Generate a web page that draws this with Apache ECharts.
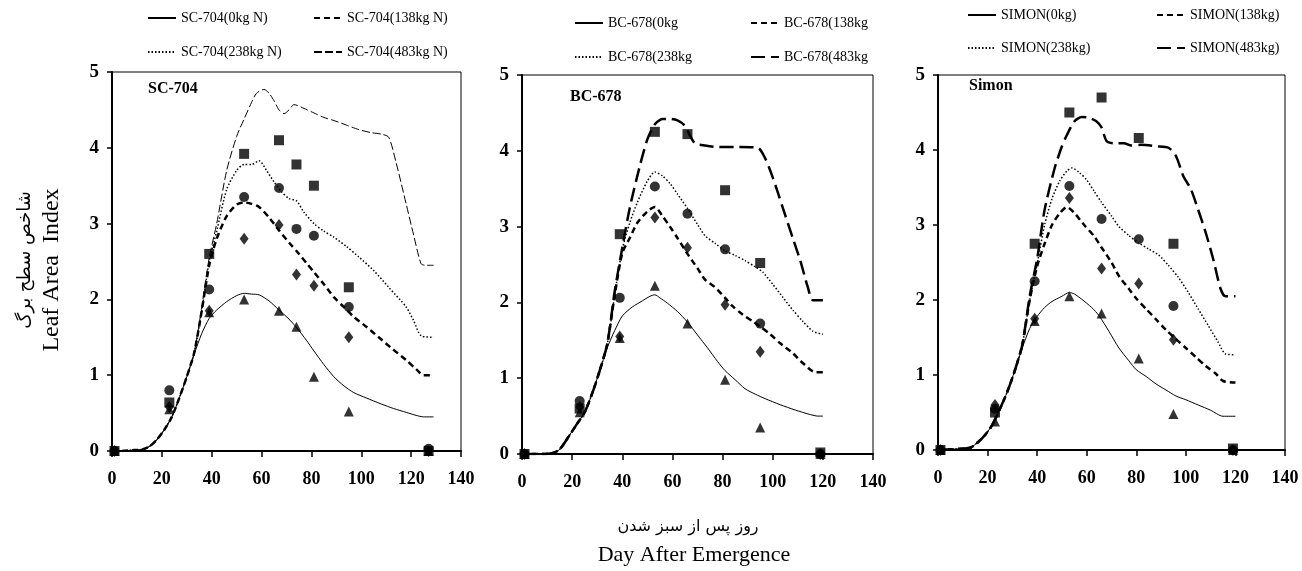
<!DOCTYPE html>
<html>
<head>
<meta charset="utf-8">
<script src="https://cdn.jsdelivr.net/npm/echarts@6/dist/echarts.min.js"></script>
<style>html,body{margin:0;padding:0;background:#fff}#c{width:1302px;height:571px}</style>
</head>
<body>
<div id="c"></div>
<script>
// ---------- DATA ----------
var xTicks = [0, 20, 40, 60, 80, 100, 120, 140];
var yTicks = [0, 1, 2, 3, 4, 5];

// SC-704 simulated curves [day, LAI]
var sc0 = [[0,0],[4,0],[8,0.01],[12,0.02],[15,0.06],[18,0.15],[21,0.28],[24,0.45],[27,0.7],[30,0.98],[33,1.28],[36,1.55],[39,1.75],[42,1.86],[46,1.97],[50,2.05],[53,2.08],[56,2.07],[59,2.06],[63,1.98],[67,1.86],[71,1.74],[74,1.63],[78,1.46],[81,1.32],[85,1.14],[89,0.98],[93,0.86],[97,0.77],[102,0.7],[108,0.62],[113,0.56],[118,0.51],[122,0.47],[125,0.45],[129,0.45]];
var sc138 = [[0,0],[4,0],[8,0.01],[12,0.02],[15,0.06],[18,0.15],[21,0.28],[24,0.45],[27,0.7],[30,0.98],[33,1.3],[36,1.85],[39,2.45],[42,2.8],[46,3.1],[50,3.25],[53,3.28],[56,3.26],[59,3.22],[63,3.08],[67,2.91],[71,2.75],[75,2.6],[78,2.48],[81,2.36],[85,2.2],[89,2.03],[93,1.9],[97,1.77],[102,1.64],[107,1.5],[112,1.36],[118,1.2],[122,1.08],[125,1.0],[129,1.0]];
var sc238 = [[0,0],[4,0],[8,0.01],[12,0.02],[15,0.06],[18,0.15],[21,0.28],[24,0.45],[27,0.7],[30,0.98],[33,1.3],[36,1.85],[39,2.5],[42,2.9],[46,3.45],[50,3.7],[53,3.78],[56,3.78],[59,3.83],[62,3.7],[65,3.55],[68,3.42],[71,3.33],[74,3.3],[77,3.15],[81,3.0],[85,2.9],[89,2.82],[94,2.7],[99,2.56],[105,2.38],[111,2.16],[118,1.9],[121,1.72],[124,1.52],[129,1.5]];
var sc483 = [[0,0],[4,0],[8,0.01],[12,0.02],[15,0.06],[18,0.15],[21,0.28],[24,0.45],[27,0.7],[30,0.98],[33,1.3],[36,1.9],[39,2.55],[42,3.0],[46,3.7],[50,4.15],[53,4.38],[56,4.6],[58,4.72],[61,4.77],[63,4.72],[65,4.62],[67,4.5],[69,4.45],[71,4.5],[73,4.57],[77,4.52],[81,4.46],[85,4.4],[89,4.36],[94,4.3],[99,4.24],[104,4.2],[108,4.18],[111,4.14],[114,3.8],[118,3.26],[121,2.85],[124,2.47],[126,2.45],[129,2.45]];
// SC-704 observations
var scDays = [1, 23, 39, 53, 67, 74, 81, 95, 127];
var scObs0 = [0, 0.55, 1.83, 2.0, 1.85, 1.64, 0.98, 0.52, 0];
var scObs138 = [0, 0.58, 1.85, 2.8, 2.98, 2.33, 2.18, 1.5, 0];
var scObs238 = [0, 0.8, 2.13, 3.35, 3.47, 2.93, 2.84, 1.9, 0.03];
var scObs483 = [0, 0.64, 2.6, 3.92, 4.1, 3.78, 3.5, 2.16, 0];

// BC-678 simulated curves
var bc0 = [[0,0],[7,0],[12,0.01],[15,0.06],[19,0.25],[22,0.4],[25,0.55],[28,0.8],[31,1.1],[34,1.4],[37,1.63],[40,1.82],[44,1.94],[48,2.02],[51,2.08],[53,2.1],[55,2.06],[58,1.99],[62,1.88],[66,1.74],[70,1.57],[74,1.4],[78,1.22],[81,1.1],[85,0.98],[89,0.86],[93,0.79],[97,0.73],[103,0.65],[109,0.58],[115,0.52],[118,0.5],[120,0.5]];
var bc138 = [[0,0],[7,0],[12,0.01],[15,0.06],[19,0.25],[22,0.4],[25,0.55],[28,0.8],[31,1.1],[34,1.45],[37,2.1],[40,2.65],[43,2.85],[46,3.05],[50,3.2],[53,3.26],[56,3.14],[59,3.0],[62,2.85],[66,2.64],[70,2.45],[73,2.3],[77,2.2],[81,2.06],[84,1.95],[88,1.84],[92,1.75],[95,1.68],[99,1.58],[103,1.46],[108,1.33],[112,1.2],[117,1.08],[120,1.08]];
var bc238 = [[0,0],[7,0],[12,0.01],[15,0.06],[19,0.25],[22,0.4],[25,0.55],[28,0.8],[31,1.1],[34,1.45],[37,2.1],[40,2.7],[43,3.05],[46,3.32],[50,3.6],[53,3.72],[56,3.67],[59,3.57],[62,3.43],[66,3.24],[70,3.03],[73,2.88],[77,2.78],[81,2.68],[85,2.62],[89,2.55],[93,2.47],[96,2.4],[100,2.24],[104,2.07],[108,1.9],[112,1.75],[116,1.62],[120,1.58]];
var bc483 = [[0,0],[7,0],[12,0.01],[15,0.06],[19,0.25],[22,0.4],[25,0.55],[28,0.8],[31,1.1],[34,1.45],[37,2.15],[40,2.72],[43,3.25],[47,3.8],[50,4.15],[53,4.35],[56,4.42],[59,4.42],[62,4.4],[65,4.33],[67,4.2],[69,4.1],[73,4.07],[78,4.05],[85,4.05],[94,4.04],[97,3.9],[100,3.65],[104,3.25],[108,2.85],[111,2.55],[114,2.2],[116,2.03],[120,2.03]];
// BC-678 observations
var bcDays = [1, 23, 39, 53, 66, 81, 95, 119];
var bcObs0 = [0, 0.55, 1.53, 2.22, 1.72, 0.98, 0.35, 0];
var bcObs138 = [0, 0.62, 1.55, 3.12, 2.72, 1.97, 1.35, 0];
var bcObs238 = [0, 0.7, 2.06, 3.53, 3.17, 2.7, 1.72, 0];
var bcObs483 = [0, 0.6, 2.9, 4.25, 4.22, 3.48, 2.52, 0.02];

// SIMON simulated curves
var sm0 = [[0,0],[6,0.01],[10,0.02],[13,0.03],[16,0.1],[19,0.2],[22,0.34],[25,0.55],[28,0.78],[31,1.06],[34,1.36],[37,1.62],[40,1.78],[43,1.9],[46,1.98],[50,2.05],[53,2.1],[55,2.08],[58,2.01],[62,1.9],[65,1.79],[69,1.58],[73,1.36],[77,1.19],[80,1.07],[84,0.98],[88,0.88],[92,0.8],[96,0.72],[100,0.67],[105,0.6],[110,0.53],[115,0.45],[120,0.45]];
var sm138 = [[0,0],[6,0.01],[10,0.02],[13,0.03],[16,0.1],[19,0.2],[22,0.34],[25,0.55],[28,0.78],[31,1.06],[34,1.4],[37,2.0],[40,2.45],[43,2.75],[46,3.0],[49,3.15],[52,3.24],[55,3.16],[59,3.0],[63,2.85],[66,2.7],[70,2.5],[73,2.32],[77,2.15],[80,2.02],[84,1.88],[88,1.74],[92,1.6],[96,1.48],[100,1.36],[104,1.24],[108,1.12],[112,1.02],[115,0.92],[120,0.9]];
var sm238 = [[0,0],[6,0.01],[10,0.02],[13,0.03],[16,0.1],[19,0.2],[22,0.34],[25,0.55],[28,0.78],[31,1.06],[34,1.4],[37,2.0],[40,2.48],[43,3.0],[46,3.35],[49,3.58],[52,3.72],[54,3.76],[57,3.7],[60,3.6],[63,3.45],[66,3.3],[70,3.12],[73,2.98],[77,2.86],[81,2.76],[85,2.68],[89,2.6],[93,2.46],[97,2.3],[101,2.1],[105,1.88],[109,1.66],[113,1.44],[116,1.28],[120,1.27]];
var sm483 = [[0,0],[6,0.01],[10,0.02],[13,0.03],[16,0.1],[19,0.2],[22,0.34],[25,0.55],[28,0.78],[31,1.06],[34,1.4],[37,2.05],[40,2.55],[43,3.2],[47,3.75],[50,4.05],[52,4.2],[55,4.38],[58,4.44],[61,4.43],[64,4.38],[66,4.3],[68,4.12],[71,4.09],[75,4.09],[78,4.06],[82,4.07],[88,4.05],[93,4.03],[96,3.92],[99,3.65],[102,3.48],[105,3.2],[108,2.9],[111,2.55],[114,2.15],[116,2.05],[120,2.05]];
// SIMON observations
var smDays = [1, 23, 39, 53, 66, 81, 95, 119];
var smObs0 = [0, 0.38, 1.72, 2.05, 1.82, 1.22, 0.48, 0];
var smObs138 = [0, 0.6, 1.75, 3.36, 2.42, 2.22, 1.47, 0];
var smObs238 = [0, 0.55, 2.25, 3.52, 3.08, 2.81, 1.92, 0];
var smObs483 = [0, 0.5, 2.75, 4.5, 4.7, 4.16, 2.75, 0.02];

var panelTitles = ['SC-704', 'BC-678', 'Simon'];
var legendNames = [
  ['SC-704(0kg N)', 'SC-704(138kg N)', 'SC-704(238kg N)', 'SC-704(483kg N)'],
  ['BC-678(0kg', 'BC-678(138kg', 'BC-678(238kg', 'BC-678(483kg'],
  ['SIMON(0kg)', 'SIMON(138kg)', 'SIMON(238kg)', 'SIMON(483kg)']
];
var yNameFa = 'شاخص سطح برگ';
var yNameEn = 'Leaf Area  Index';
var xNameFa = 'روز پس از سبز شدن';
var xNameEn = 'Day After Emergence';

// ---------- LAYOUT / STYLE ----------
var SERIF = "'Liberation Serif','Times New Roman',serif";
var ARAB = "'DejaVu Sans',sans-serif";
var grids = [
  {left: 112, top: 72, width: 349, height: 379},
  {left: 522, top: 75, width: 351, height: 379},
  {left: 938, top: 75, width: 347, height: 375}
];
var titlePos = [[148, 90], [570, 98], [969, 87]];
var legendPos = [
  {c1: 147, c2: 313, r1: 19, r2: 53},
  {c1: 574, c2: 750, r1: 24, r2: 58},
  {c1: 967, c2: 1156, r1: 16, r2: 49}
];
var curves = [[sc0, sc138, sc238, sc483], [bc0, bc138, bc238, bc483], [sm0, sm138, sm238, sm483]];
var obsDays = [scDays, bcDays, smDays];
var obs = [[scObs0, scObs138, scObs238, scObs483], [bcObs0, bcObs138, bcObs238, bcObs483], [smObs0, smObs138, smObs238, smObs483]];
var lineStyles = [
  {width: 1, type: 'solid'},
  {width: 2.5, type: [6, 4]},
  {width: 1.5, type: [1.5, 2]},
  null
];
var longDash = [{width: 1, type: [8, 3]}, {width: 2.5, type: [14, 6]}, {width: 2.5, type: [14, 6]}];
var symbols = ['triangle', 'diamond', 'circle', 'rect'];
var symbolSizes = [10, [9, 12], 10, 10];

function pairs(xs, ys) { return xs.map(function (x, i) { return [x, ys[i]]; }); }

var option = {
  animation: false,
  backgroundColor: '#fff',
  grid: [], xAxis: [], yAxis: [], series: [], legend: [], graphic: []
};

for (var p = 0; p < 3; p++) {
  var g = grids[p];
  option.grid.push({left: g.left, top: g.top, width: g.width, height: g.height, show: true,
    borderColor: '#000', borderWidth: 1, backgroundColor: 'transparent'});
  option.xAxis.push({
    type: 'value', gridIndex: p, min: xTicks[0], max: xTicks[xTicks.length - 1], interval: 20,
    axisLine: {show: true, onZero: false, lineStyle: {color: '#000', width: 2}},
    axisTick: {show: true, length: 6, lineStyle: {color: '#000', width: 1.5}},
    axisLabel: {color: '#000', fontFamily: SERIF, fontWeight: 'bold', fontSize: 18, margin: 19},
    splitLine: {show: false}
  });
  option.yAxis.push({
    type: 'value', gridIndex: p, min: yTicks[0], max: yTicks[yTicks.length - 1], interval: 1,
    axisLine: {show: true, onZero: false, lineStyle: {color: '#000', width: 2}},
    axisTick: {show: true, length: 5, lineStyle: {color: '#000', width: 1.5}},
    axisLabel: {color: '#000', fontFamily: SERIF, fontWeight: 'bold', fontSize: 19, margin: 13},
    splitLine: {show: false}
  });
  for (var k = 0; k < 4; k++) {
    var ls = k === 3 ? longDash[p] : lineStyles[k];
    option.series.push({
      name: legendNames[p][k], type: 'line', xAxisIndex: p, yAxisIndex: p,
      data: curves[p][k], symbol: 'none', smooth: 0.25, z: 2,
      lineStyle: {color: '#000', width: ls.width, type: ls.type},
      itemStyle: {color: '#000', opacity: 0}
    });
  }
  for (var k2 = 0; k2 < 4; k2++) {
    option.series.push({
      name: 'obs' + p + '_' + k2, type: 'scatter', xAxisIndex: p, yAxisIndex: p,
      data: pairs(obsDays[p], obs[p][k2]), symbol: symbols[k2], symbolSize: symbolSizes[k2],
      itemStyle: {color: '#000'}, z: 4
    });
  }
  var lp = legendPos[p];
  var lpos = [[lp.c1, lp.r1], [lp.c2, lp.r1], [lp.c1, lp.r2], [lp.c2, lp.r2]];
  for (var k3 = 0; k3 < 4; k3++) {
    option.legend.push({
      data: [legendNames[p][k3]], left: lpos[k3][0], top: lpos[k3][1] - 8, padding: 0,
      itemWidth: 28, itemHeight: 14, selectedMode: false,
      itemStyle: {opacity: 0},
      textStyle: {color: '#000', fontFamily: SERIF, fontSize: 14}
    });
  }
  option.graphic.push({
    type: 'text', left: titlePos[p][0], top: titlePos[p][1] - 9,
    style: {text: panelTitles[p], fill: '#000', font: 'bold 16px ' + SERIF}
  });
}

option.graphic.push(
  {type: 'text', x: 25, y: 260, rotation: Math.PI / 2,
   style: {text: yNameFa, fill: '#000', font: '18px ' + ARAB, align: 'center', verticalAlign: 'middle'}},
  {type: 'text', x: 52, y: 270, rotation: Math.PI / 2,
   style: {text: yNameEn, fill: '#000', font: '24px ' + SERIF, align: 'center', verticalAlign: 'middle'}},
  {type: 'text', x: 688, y: 527,
   style: {text: xNameFa, fill: '#000', font: '16px ' + ARAB, align: 'center', verticalAlign: 'middle'}},
  {type: 'text', x: 694, y: 555,
   style: {text: xNameEn, fill: '#000', font: '22px ' + SERIF, align: 'center', verticalAlign: 'middle'}}
);

var chart = echarts.init(document.getElementById('c'), null, {renderer: 'canvas'});
chart.setOption(option);
</script>
</body>
</html>
